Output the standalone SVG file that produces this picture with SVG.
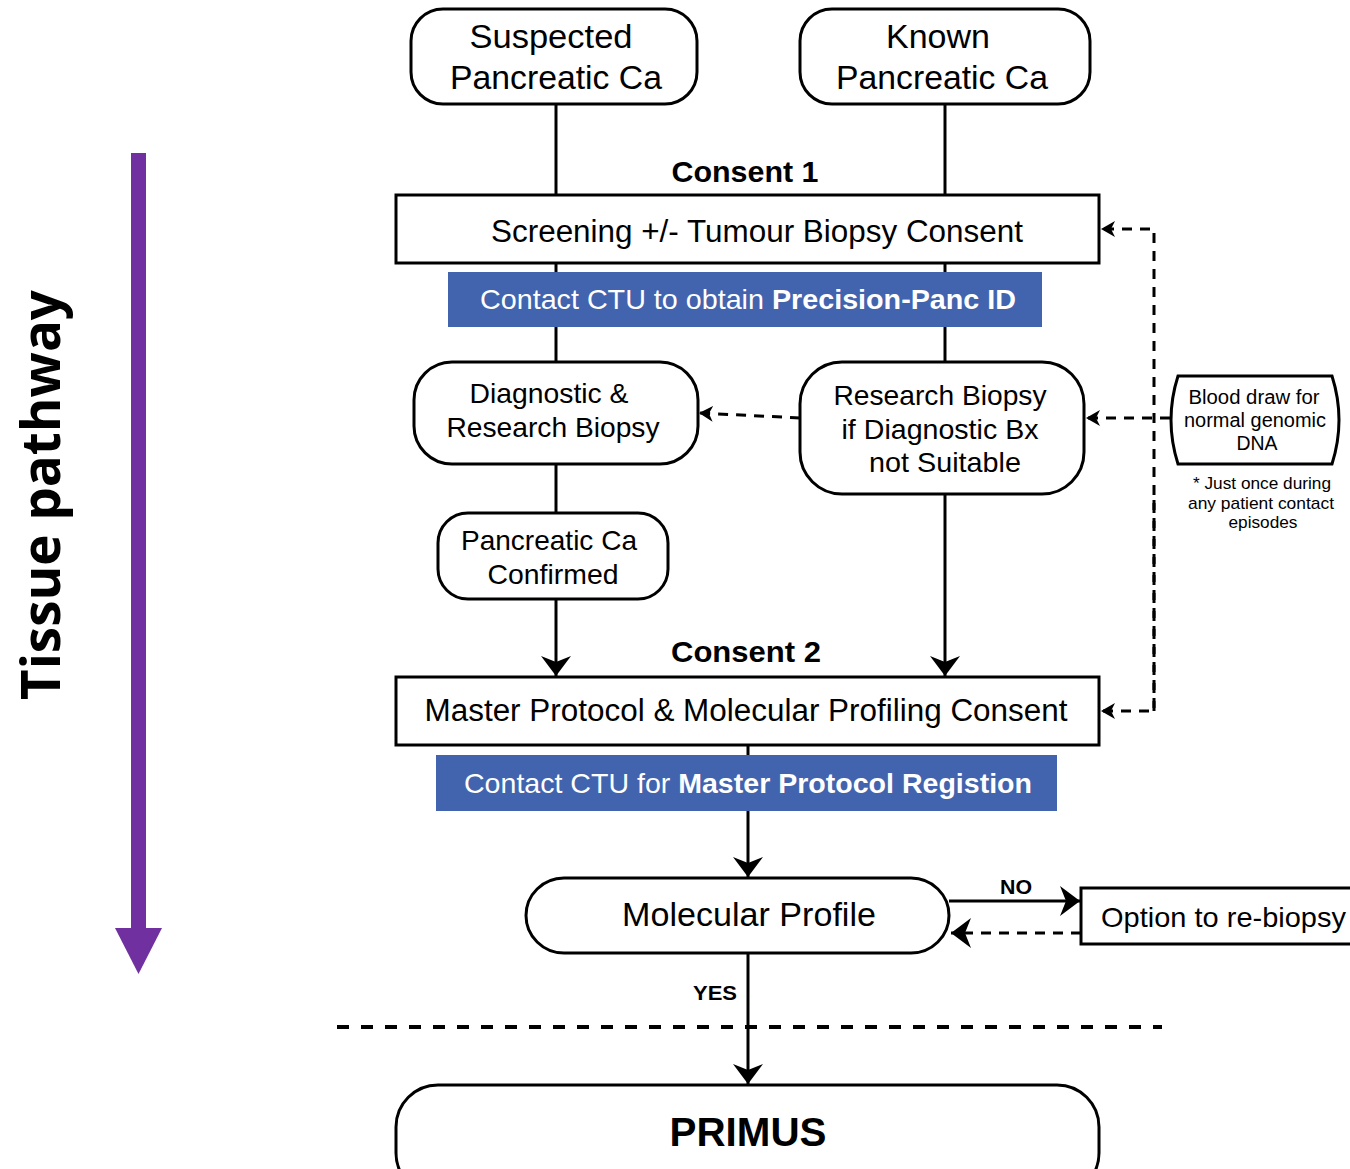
<svg xmlns="http://www.w3.org/2000/svg" width="1350" height="1169" viewBox="0 0 1350 1169">
<defs>
<style>
.box{fill:#fff;stroke:#000;stroke-width:3}
.t{font-family:"Liberation Sans",Arial,sans-serif;fill:#000;text-anchor:middle}
.b{font-weight:bold}
.ln{stroke:#000;stroke-width:3;fill:none}
.dl{stroke:#000;stroke-width:3;fill:none;stroke-dasharray:10 8}
.bar{fill:#4264AE}
</style>
<marker id="ah" viewBox="0 0 20 30" refX="20" refY="15" markerWidth="20" markerHeight="30" markerUnits="userSpaceOnUse" orient="auto">
<path d="M0,0 L20,15 L0,30 L6,15 Z" fill="#000"/>
</marker>
<marker id="ahs" viewBox="0 0 14 16" refX="14" refY="8" markerWidth="14" markerHeight="16" markerUnits="userSpaceOnUse" orient="auto">
<path d="M0,0 L14,8 L0,16 L4,8 Z" fill="#000"/>
</marker>
</defs>
<rect width="1350" height="1169" fill="#fff"/>

<g id="tissue-pathway">
<rect x="131" y="153" width="15" height="777" fill="#7030A0"/>
<path d="M115,928 L162,928 L138.5,974 Z" fill="#7030A0"/>
<text class="t b" transform="translate(60,495) rotate(-90)" font-size="54" textLength="410" lengthAdjust="spacingAndGlyphs" style="font-family:'Open Sans','Liberation Sans',sans-serif">Tissue pathway</text>
</g>

<g id="connectors">
<line class="ln" x1="556" y1="104" x2="556" y2="195"/>
<line class="ln" x1="945" y1="104" x2="945" y2="195"/>
<line class="ln" x1="556" y1="263" x2="556" y2="362"/>
<line class="ln" x1="945" y1="263" x2="945" y2="362"/>
<line class="ln" x1="556" y1="464" x2="556" y2="513"/>
<line class="ln" x1="556" y1="599" x2="556" y2="676" marker-end="url(#ah)"/>
<line class="ln" x1="945" y1="494" x2="945" y2="676" marker-end="url(#ah)"/>
<line class="dl" x1="800" y1="418" x2="699" y2="413" marker-end="url(#ahs)"/>
<polyline class="dl" points="1154,711 1154,229 1101,229" marker-end="url(#ahs)"/>
<polyline class="dl" points="1154,500 1154,711 1101,711" marker-end="url(#ahs)"/>
<line class="dl" x1="1170" y1="418" x2="1086" y2="418" marker-end="url(#ahs)"/>
<line class="ln" x1="748" y1="745" x2="748" y2="755"/>
<line class="ln" x1="748" y1="811" x2="748" y2="877" marker-end="url(#ah)"/>
<line class="ln" x1="949" y1="901" x2="1080" y2="901" marker-end="url(#ah)"/>
<line class="dl" x1="1081" y1="933" x2="951" y2="933" marker-end="url(#ah)"/>
<line class="ln" x1="748" y1="953" x2="748" y2="1084" marker-end="url(#ah)"/>
<line x1="337" y1="1027" x2="1162" y2="1027" stroke="#000" stroke-width="4" stroke-dasharray="12 12"/>
<text class="t b" x="1016" y="894" font-size="20" textLength="32" lengthAdjust="spacingAndGlyphs">NO</text>
<text class="t b" x="715" y="1000" font-size="20" textLength="44" lengthAdjust="spacingAndGlyphs">YES</text>
</g>

<g id="suspected">
<rect class="box" x="411" y="9" width="286" height="95" rx="32"/>
<text class="t" x="551" y="48" font-size="33" textLength="163" lengthAdjust="spacingAndGlyphs">Suspected</text>
<text class="t" x="556" y="89" font-size="33" textLength="212" lengthAdjust="spacingAndGlyphs">Pancreatic Ca</text>
</g>
<g id="known">
<rect class="box" x="800" y="9" width="290" height="95" rx="32"/>
<text class="t" x="938" y="48" font-size="33" textLength="104" lengthAdjust="spacingAndGlyphs">Known</text>
<text class="t" x="942" y="89" font-size="33" textLength="212" lengthAdjust="spacingAndGlyphs">Pancreatic Ca</text>
</g>

<g id="consent1">
<text class="t b" x="745" y="182" font-size="30" textLength="147" lengthAdjust="spacingAndGlyphs">Consent 1</text>
</g>
<g id="screening">
<rect class="box" x="396" y="195" width="703" height="68"/>
<text class="t" x="757" y="242" font-size="31" textLength="532" lengthAdjust="spacingAndGlyphs">Screening +/- Tumour Biopsy Consent</text>
</g>
<g id="ctu1">
<rect class="bar" x="448" y="272" width="594" height="55"/>
<text class="t" x="748" y="309" font-size="28" textLength="536" lengthAdjust="spacingAndGlyphs" style="fill:#fff">Contact CTU to obtain <tspan class="b">Precision-Panc ID</tspan></text>
</g>

<g id="diag">
<rect class="box" x="414" y="362" width="284" height="102" rx="38"/>
<text class="t" x="549" y="403" font-size="28" textLength="159" lengthAdjust="spacingAndGlyphs">Diagnostic &amp;</text>
<text class="t" x="553" y="437" font-size="28" textLength="213" lengthAdjust="spacingAndGlyphs">Research Biopsy</text>
</g>
<g id="research">
<rect class="box" x="800" y="362" width="284" height="132" rx="42"/>
<text class="t" x="940" y="405" font-size="28" textLength="213" lengthAdjust="spacingAndGlyphs">Research Biopsy</text>
<text class="t" x="940" y="439" font-size="28" textLength="197" lengthAdjust="spacingAndGlyphs">if Diagnostic Bx</text>
<text class="t" x="945" y="472" font-size="28" textLength="152" lengthAdjust="spacingAndGlyphs">not Suitable</text>
</g>
<g id="blood">
<path class="box" d="M1178,376 H1332 Q1346,420 1332,464 H1178 Q1164,420 1178,376 Z"/>
<text class="t" x="1254" y="404" font-size="19.5" textLength="131" lengthAdjust="spacingAndGlyphs">Blood draw for</text>
<text class="t" x="1255" y="427" font-size="19.5" textLength="142" lengthAdjust="spacingAndGlyphs">normal genomic</text>
<text class="t" x="1257" y="450" font-size="19.5" textLength="41" lengthAdjust="spacingAndGlyphs">DNA</text>
</g>
<g id="footnote">
<text class="t" x="1262" y="489" font-size="17" textLength="138" lengthAdjust="spacingAndGlyphs">* Just once during</text>
<text class="t" x="1261" y="509" font-size="17" textLength="146" lengthAdjust="spacingAndGlyphs">any patient contact</text>
<text class="t" x="1263" y="528" font-size="17" textLength="69" lengthAdjust="spacingAndGlyphs">episodes</text>
</g>
<g id="confirmed">
<rect class="box" x="438" y="513" width="230" height="86" rx="30"/>
<text class="t" x="549" y="550" font-size="28" textLength="176" lengthAdjust="spacingAndGlyphs">Pancreatic Ca</text>
<text class="t" x="553" y="584" font-size="28" textLength="131" lengthAdjust="spacingAndGlyphs">Confirmed</text>
</g>

<g id="consent2">
<text class="t b" x="746" y="662" font-size="30" textLength="150" lengthAdjust="spacingAndGlyphs">Consent 2</text>
</g>
<g id="master">
<rect class="box" x="396" y="677" width="703" height="68"/>
<text class="t" x="746" y="721" font-size="31" textLength="643" lengthAdjust="spacingAndGlyphs">Master Protocol &amp; Molecular Profiling Consent</text>
</g>
<g id="ctu2">
<rect class="bar" x="436" y="755" width="621" height="56"/>
<text class="t" x="748" y="793" font-size="28" textLength="568" lengthAdjust="spacingAndGlyphs" style="fill:#fff">Contact CTU for <tspan class="b">Master Protocol Registion</tspan></text>
</g>

<g id="molecular">
<rect class="box" x="526" y="878" width="423" height="75" rx="38"/>
<text class="t" x="749" y="926" font-size="33" textLength="254" lengthAdjust="spacingAndGlyphs">Molecular Profile</text>
</g>
<g id="rebiopsy">
<rect class="box" x="1081" y="888" width="280" height="56"/>
<text x="1101" y="927" font-size="28" textLength="245" lengthAdjust="spacingAndGlyphs" style="font-family:'Liberation Sans',Arial,sans-serif">Option to re-biopsy</text>
</g>
<g id="primus">
<rect class="box" x="396" y="1085" width="703" height="110" rx="42"/>
<text class="t b" x="748" y="1146" font-size="40" textLength="157" lengthAdjust="spacingAndGlyphs">PRIMUS</text>
</g>
</svg>
